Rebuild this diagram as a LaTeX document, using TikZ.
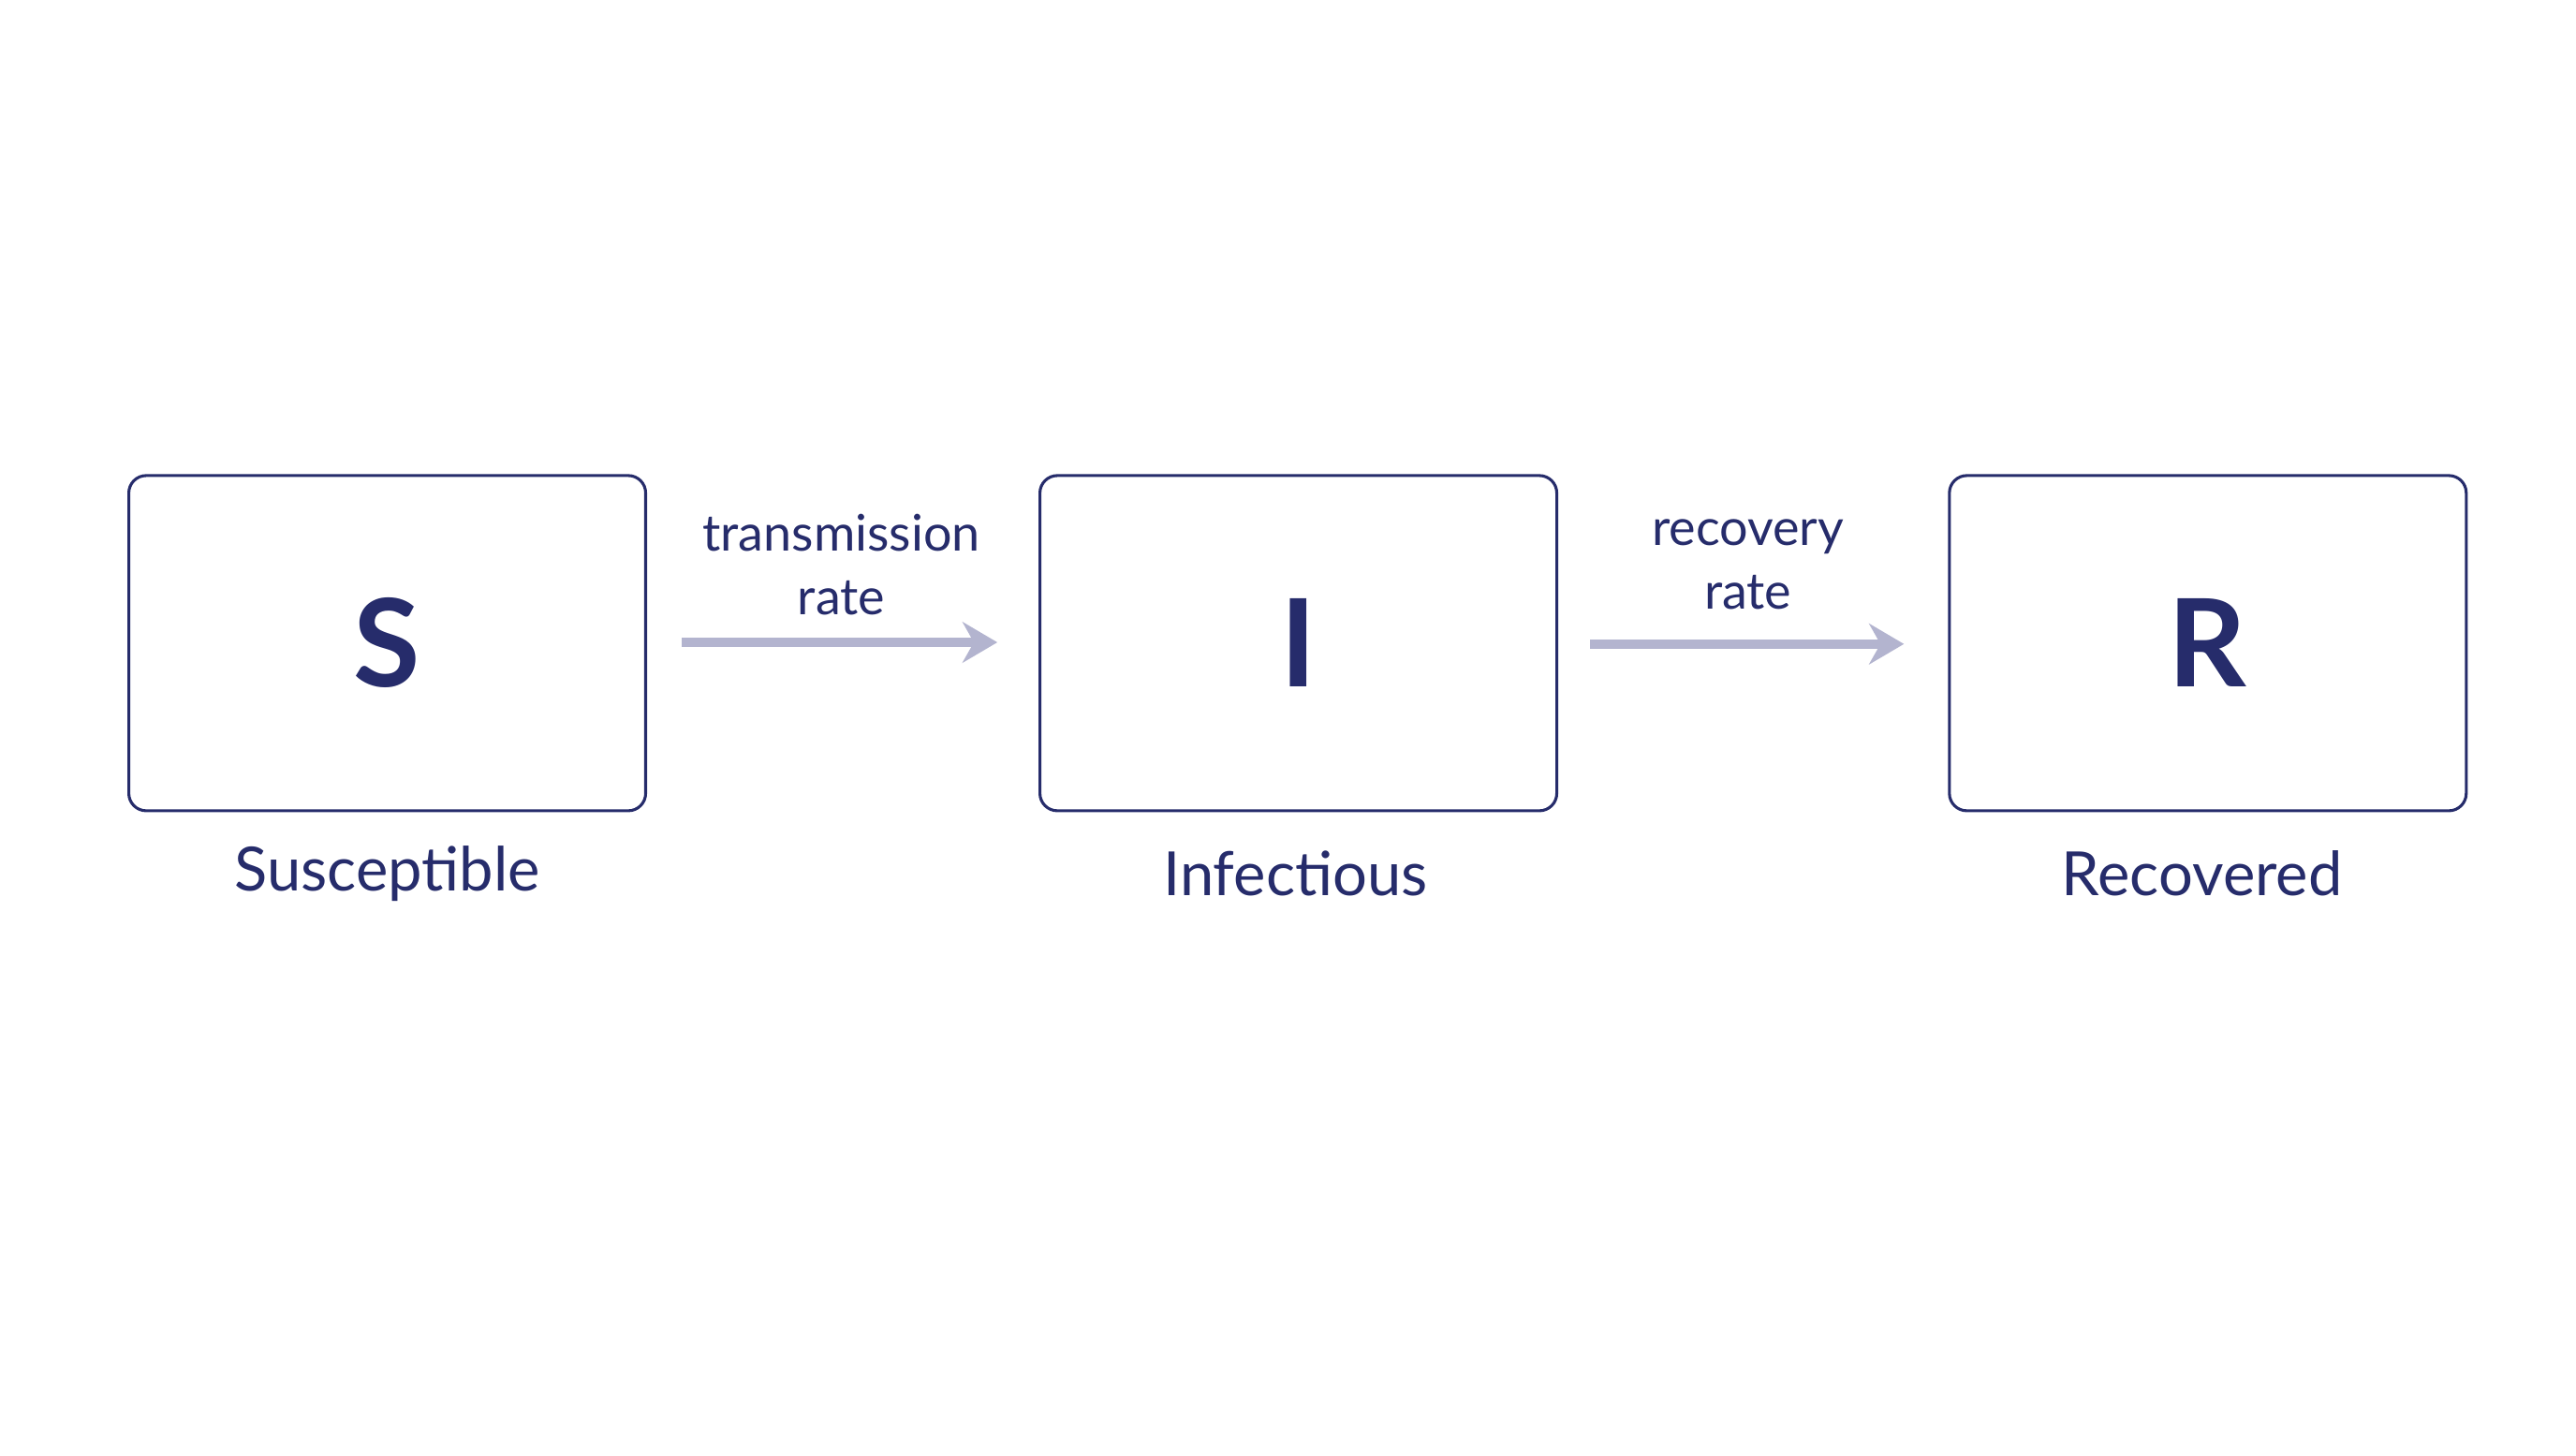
\documentclass[tikz,border=0pt]{standalone}
\usepackage{fontspec}
\setmainfont{Lato}
\usetikzlibrary{positioning, arrows.meta}
\definecolor{navy}{HTML}{262C6B}
\definecolor{lavender}{HTML}{B3B4CF}
\tikzset{
	compartment/.style={draw=navy, line width=0.5pt, rounded corners=3pt, minimum width=3.13cm, minimum height=2.03cm, text=navy, font=\fontsize{21}{24}\selectfont\bfseries},
	caption/.style={text=navy, font=\fontsize{10.5}{12}\selectfont},
	rate/.style={text=navy, font=\fontsize{8.7}{11}\selectfont, align=center},
	flow/.style={draw=lavender, line width=1.6pt, -{Stealth[length=6pt, width=7pt]}}
}
\begin{document}
\begin{tikzpicture}
	\useasboundingbox (0,0) rectangle (15.6,-8.813);
	
	%boxes
	\node[compartment] (S) at (2.345,-3.895) {S};
	\node[compartment, right=2.37cm of S] (I) {I};
	\node[compartment, right=2.36cm of I] (R) {R};
	
	%captions
	\node[caption] (Slab) at (2.345,-5.29) {Susceptible};
	\node[caption] (Ilab) at (7.845,-5.29) {Infectious};
	\node[caption] (Rlab) at (13.335,-5.29) {Recovered};
	
	%arrows
	\coordinate (a1) at (4.13,-3.89);
	\coordinate (b1) at (6.04,-3.89);
	\coordinate (a2) at (9.63,-3.9);
	\coordinate (b2) at (11.53,-3.9);
	\draw[flow] (a1) -- (b1);
	\draw[flow] (a2) -- (b2);
	\node[rate] (tr) at (5.095,-3.42) {transmission\\rate};
	\node[rate] (rr) at (10.585,-3.42) {recovery\\rate};
\end{tikzpicture}
\end{document}
